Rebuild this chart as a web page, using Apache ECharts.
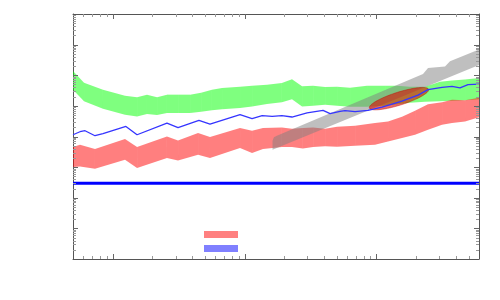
<!DOCTYPE html>
<html><head><meta charset="utf-8">
<script src="https://cdn.jsdelivr.net/npm/echarts@6/dist/echarts.min.js"></script>
<style>html,body{margin:0;padding:0;background:#fff}#c{width:500px;height:300px}</style>
</head><body><div id="c"></div>
<script>
// ---- data ----
const xRange = [5, 6000];
const yRange = [1, 1e8];
const xMajorTicks = [10, 100, 1000];
const yMajorTicks = [1e1, 1e2, 1e3, 1e4, 1e5, 1e6, 1e7];
const minorMultipliers = [2, 3, 4, 5, 6, 7, 8, 9];

const greenX = [5, 6.06, 8.44, 12.4, 15.3, 18.2, 21.7, 25.8, 31.3, 38.6, 46.8, 56.6, 67.5, 92.4, 114, 148, 192, 229, 273, 331, 408, 503, 631, 849, 1163, 1433, 1798, 2337, 3037, 3745, 4700, 6000];
const greenTop = [1.366e6, 5.74e5, 3.39e5, 2.157e5, 1.898e5, 2.325e5, 1.898e5, 2.325e5, 2.325e5, 2.325e5, 2.703e5, 3.39e5, 3.80e5, 4.25e5, 4.58e5, 4.94e5, 5.61e5, 7.47e5, 4.35e5, 4.58e5, 4.15e5, 4.25e5, 3.94e5, 4.58e5, 4.58e5, 4.58e5, 4.25e5, 4.25e5, 6.19e5, 6.68e5, 7.20e5, 8.06e5];
const greenBottom = [3.39e5, 1.404e5, 8.10e4, 5.15e4, 4.53e4, 5.43e4, 5.04e4, 5.86e4, 5.86e4, 5.86e4, 6.46e4, 7.23e4, 7.80e4, 8.54e4, 9.63e4, 1.154e5, 1.302e5, 1.657e5, 9.63e4, 1.015e5, 1.095e5, 1.015e5, 9.41e4, 9.41e4, 1.015e5, 1.137e5, 1.272e5, 1.372e5, 1.425e5, 1.480e5, 1.537e5, 1.657e5];

const redX = [5, 5.65, 7.34, 12.4, 15.3, 25.8, 31.3, 44.4, 54.7, 92.4, 114, 138, 192, 229, 277, 331, 408, 503, 689, 976, 1225, 1564, 1963, 2463, 3146, 3745, 4700, 6000];
const redTop = [4.52e3, 5.38e3, 3.89e3, 8.26e3, 4.52e3, 1.005e4, 7.43e3, 1.298e4, 9.60e3, 1.892e4, 1.543e4, 1.892e4, 1.979e4, 1.795e4, 1.892e4, 1.979e4, 1.795e4, 2.086e4, 2.250e4, 2.757e4, 3.11e4, 4.43e4, 6.97e4, 1.137e5, 1.302e5, 1.596e5, 1.514e5, 1.855e5];
const redBottom = [1.002e3, 1.048e3, 881, 1.736e3, 929, 1.973e3, 1.647e3, 2.53e3, 1.973e3, 4.19e3, 2.876e3, 3.89e3, 4.52e3, 4.52e3, 4.07e3, 4.52e3, 4.80e3, 4.62e3, 4.98e3, 5.38e3, 6.89e3, 8.91e3, 1.142e4, 1.664e4, 2.425e4, 2.757e4, 3.11e4, 4.27e4];

const blueX = [5, 5.65, 6.17, 7.34, 8.44, 12.6, 15.3, 25.8, 31.3, 45.1, 54.7, 92.4, 114, 136, 162, 192, 229, 298, 394, 445, 530, 578, 689, 864, 1103, 1564, 2069, 2463, 3146, 3745, 4307, 4952, 6000];
const blueY = [1.142e4, 1.431e4, 1.543e4, 1.059e4, 1.231e4, 2.134e4, 1.142e4, 2.716e4, 1.935e4, 3.354e4, 2.519e4, 5.15e4, 3.81e4, 4.78e4, 4.53e4, 4.78e4, 4.33e4, 5.86e4, 7.12e4, 5.56e4, 6.61e4, 6.97e4, 6.46e4, 7.12e4, 9.07e4, 1.425e5, 2.239e5, 3.39e5, 4.03e5, 4.35e5, 3.85e5, 4.94e5, 5.13e5];

const floorX = [5, 6000];
const floorY = [295, 295];

const grayX = [163, 6000, 6000, 3616, 3315, 2463, 2257, 176, 167, 163];
const grayY = [3.69e3, 2.163e6, 6.90e6, 2.858e6, 1.917e6, 1.739e6, 1.09e6, 1.059e4, 9.46e3, 7.27e3];

const ellipseCenter = [1484, 1.72e5];
const ellipseMajorEnd = [2489, 3.47e5];
const ellipseMinorEnd = [1435, 2.744e5];

// ---- chart ----
function bandSeries(name, xs, tops, bottoms, color) {
  const rows = xs.map((x, i) => [x, tops[i], bottoms[i]]);
  return {
    type: 'custom', name, coordinateSystem: 'cartesian2d', xAxisIndex: 0, yAxisIndex: 0,
    data: rows, encode: {x: 0, y: [1, 2]}, clip: true, silent: true,
    renderItem(params, api) {
      const i = params.dataIndex;
      if (i >= rows.length - 1) return null;
      const a = rows[i], b = rows[i + 1];
      const pts = [api.coord([a[0], a[1]]), api.coord([b[0], b[1]]), api.coord([b[0], b[2]]), api.coord([a[0], a[2]])];
      return {type: 'polygon', shape: {points: pts}, style: {fill: color}};
    }
  };
}

const axisCommon = {
  type: 'log', logBase: 10, gridIndex: 0,
  axisLine: {show: true, onZero: false, lineStyle: {color: '#555', width: 1}},
  axisTick: {show: false}, axisLabel: {show: false}, splitLine: {show: false}, minorTick: {show: false}
};

const chart = echarts.init(document.getElementById('c'), null, {renderer: 'canvas'});
chart.setOption({
  animation: false,
  backgroundColor: '#fff',
  grid: {left: 73, right: 21, top: 14, bottom: 41, containLabel: false},
  xAxis: [
    Object.assign({}, axisCommon, {position: 'bottom', min: xRange[0], max: xRange[1]}),
    Object.assign({}, axisCommon, {position: 'top', min: xRange[0], max: xRange[1]})
  ],
  yAxis: [
    Object.assign({}, axisCommon, {position: 'left', min: yRange[0], max: yRange[1]}),
    Object.assign({}, axisCommon, {position: 'right', min: yRange[0], max: yRange[1]})
  ],
  legend: {
    orient: 'vertical', left: 204, top: 231, itemWidth: 34, itemHeight: 7, itemGap: 7, padding: 0,
    icon: 'rect', selectedMode: false, formatter: () => '',
    data: [
      {name: 'Red band', itemStyle: {color: '#ff8080', borderWidth: 0}},
      {name: 'Blue line', itemStyle: {color: '#8080ff', borderWidth: 0}}
    ]
  },
  series: [
    bandSeries('Green band', greenX, greenTop, greenBottom, 'rgba(0,255,0,0.5)'),
    bandSeries('Red band', redX, redTop, redBottom, 'rgba(255,0,0,0.5)'),
    {
      type: 'line', name: 'Blue line', xAxisIndex: 0, yAxisIndex: 0, symbol: 'none', silent: true,
      data: blueX.map((x, i) => [x, blueY[i]]),
      lineStyle: {color: '#3535ff', width: 1.3}
    },
    {
      type: 'line', name: 'Floor', xAxisIndex: 0, yAxisIndex: 0, symbol: 'none', silent: true,
      data: floorX.map((x, i) => [x, floorY[i]]),
      lineStyle: {color: '#0000ff', width: 3}
    },
    {
      type: 'custom', name: 'Gray band', coordinateSystem: 'cartesian2d', xAxisIndex: 0, yAxisIndex: 0,
      data: [[grayX[0], grayY[0]]], clip: true, silent: true,
      renderItem(params, api) {
        const pts = grayX.map((x, i) => api.coord([x, grayY[i]]));
        return {type: 'polygon', shape: {points: pts}, style: {fill: 'rgba(128,128,128,0.5)'}};
      }
    },
    {
      type: 'custom', name: 'Ellipse', coordinateSystem: 'cartesian2d', xAxisIndex: 0, yAxisIndex: 0,
      data: [ellipseCenter], clip: true, silent: true,
      renderItem(params, api) {
        const c = api.coord(ellipseCenter), a = api.coord(ellipseMajorEnd), b = api.coord(ellipseMinorEnd);
        const ux = a[0] - c[0], uy = a[1] - c[1], vx = b[0] - c[0], vy = b[1] - c[1];
        const pts = [];
        for (let k = 0; k < 96; k++) {
          const t = k / 96 * 2 * Math.PI;
          pts.push([c[0] + ux * Math.cos(t) + vx * Math.sin(t), c[1] + uy * Math.cos(t) + vy * Math.sin(t)]);
        }
        return {type: 'polygon', shape: {points: pts}, style: {fill: 'rgba(220,10,0,0.6)', stroke: 'rgba(190,0,0,0.7)', lineWidth: 0.6}};
      }
    },
    {
      type: 'custom', name: 'Ticks', coordinateSystem: 'cartesian2d', xAxisIndex: 0, yAxisIndex: 0,
      data: [[10, 10]], clip: false, silent: true, z: 10,
      renderItem(params, api) {
        const cs = params.coordSys;
        const L = cs.x, R = cs.x + cs.width, T = cs.y, B = cs.y + cs.height;
        const kids = [];
        const ln = (x1, y1, x2, y2, col) => kids.push({type: 'line', shape: {x1, y1, x2, y2}, style: {stroke: col, lineWidth: 1}});
        const xt = (v, len, col) => {
          if (v <= xRange[0] || v >= xRange[1]) return;
          const px = Math.round(api.coord([v, yRange[0]])[0]) + 0.5;
          ln(px, B, px, B - len, col); ln(px, T, px, T + len, col);
        };
        const yt = (v, len, col) => {
          if (v <= yRange[0] || v >= yRange[1]) return;
          const py = Math.round(api.coord([xRange[0], v])[1]) + 0.5;
          ln(L, py, L + len, py, col); ln(R, py, R - len, py, col);
        };
        const xDecades = [1].concat(xMajorTicks);
        xDecades.forEach(d => minorMultipliers.forEach(m => xt(d * m, 3, '#999')));
        xMajorTicks.forEach(v => xt(v, 5, '#666'));
        const yDecades = [1].concat(yMajorTicks);
        yDecades.forEach(d => minorMultipliers.forEach(m => yt(d * m, 3, '#999')));
        yMajorTicks.forEach(v => yt(v, 5, '#666'));
        return {type: 'group', children: kids};
      }
    }
  ]
});
</script>
</body></html>
